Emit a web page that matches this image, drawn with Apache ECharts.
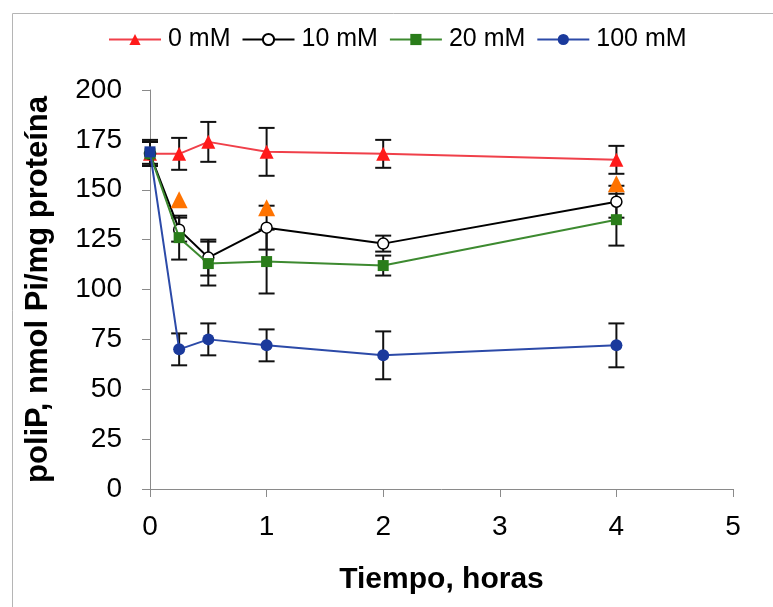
<!DOCTYPE html>
<html>
<head>
<meta charset="utf-8">
<script src="https://cdn.jsdelivr.net/npm/echarts@6/dist/echarts.min.js"></script>
<style>
  html, body { margin: 0; padding: 0; background: #fff; }
  #main { width: 773px; height: 607px; }
</style>
</head>
<body>
<div id="main"></div>
<script>
var dom = document.getElementById('main');
var myChart = echarts.init(dom, null, { renderer: 'canvas' });

// tiempo (horas)
var times = [0, 0.25, 0.5, 1, 2, 4];
// poliP, nmol Pi/mg proteina, with error (+/-)
var mM0 = [168, 168, 174, 169, 168, 165];
var err0 = [6, 8, 10, 12, 7, 7];
var mM10 = [168, 130, 116, 131, 123, 144];
var err10 = [6, 6, 9, 11, 4, 8];
var mM20 = [168, 126, 113, 114, 112, 135];
var err20 = [6, 11, 11, 16, 5, 13];
var mM100 = [169, 70, 75, 72, 67, 72];
var err100 = [6, 8, 8, 8, 12, 11];
// extra orange triangles (not in legend)
var extraTimes = [0.25, 1, 4];
var extraVals = [145, 141, 153];

function pairs(xs, ys) {
  var out = [];
  for (var i = 0; i < xs.length; i++) out.push([xs[i], ys[i]]);
  return out;
}
function errRows(vals, errs) {
  var out = [];
  for (var i = 0; i < times.length; i++) out.push([times[i], vals[i] - errs[i], vals[i] + errs[i]]);
  return out;
}

function renderErr(params, api) {
  var x = api.value(0);
  var top = api.coord([x, api.value(2)]);
  var bot = api.coord([x, api.value(1)]);
  var w = 8;
  var st = { stroke: '#111', lineWidth: 2 };
  return {
    type: 'group',
    children: [
      { type: 'line', shape: { x1: top[0], y1: top[1], x2: bot[0], y2: bot[1] }, style: st },
      { type: 'line', shape: { x1: top[0] - w, y1: top[1], x2: top[0] + w, y2: top[1] }, style: st },
      { type: 'line', shape: { x1: bot[0] - w, y1: bot[1], x2: bot[0] + w, y2: bot[1] }, style: st }
    ]
  };
}

function errSeries(vals, errs) {
  return {
    type: 'custom',
    renderItem: renderErr,
    data: errRows(vals, errs),
    encode: { x: 0, y: [1, 2] },
    z: 1,
    silent: true
  };
}

var blueData = pairs(times, mM100);
blueData[0] = { value: blueData[0], symbol: 'rect', symbolSize: 11 };

var option = {
  animation: false,
  textStyle: { fontFamily: 'Liberation Sans, Arial, sans-serif' },
  graphic: [{
    type: 'rect',
    left: 10, top: 11,
    shape: { width: 800, height: 700 },
    style: { fill: 'none', stroke: '#b5b5b5', lineWidth: 1 },
    silent: true
  }],
  legend: {
    left: 103,
    top: 22,
    itemWidth: 52,
    itemHeight: 14,
    itemGap: 11,
    data: ['0 mM', '10 mM', '20 mM', '100 mM'],
    textStyle: { fontSize: 25, color: '#000', padding: [0, 0, 0, 2] }
  },
  grid: { left: 150, right: 40, top: 90, bottom: 118 },
  xAxis: {
    type: 'value',
    min: 0, max: 5, interval: 1,
    name: 'Tiempo, horas',
    nameLocation: 'middle',
    nameGap: 76,
    nameTextStyle: { fontSize: 30, fontWeight: 'bold', color: '#000' },
    axisLine: { show: true, onZero: false, lineStyle: { color: '#8a8a8a', width: 1 } },
    axisTick: { show: true, length: 8, lineStyle: { color: '#8a8a8a' } },
    axisLabel: { fontSize: 28, color: '#000', margin: 24 },
    splitLine: { show: false }
  },
  yAxis: {
    type: 'value',
    min: 0, max: 200, interval: 25,
    name: 'poliP, nmol Pi/mg proteína',
    nameLocation: 'middle',
    nameGap: 96,
    nameTextStyle: { fontSize: 31, fontWeight: 'bold', color: '#000' },
    axisLine: { show: true, lineStyle: { color: '#8a8a8a', width: 1 } },
    axisTick: { show: true, length: 8, lineStyle: { color: '#8a8a8a' } },
    axisLabel: { fontSize: 28, color: '#000', margin: 28 },
    splitLine: { show: false }
  },
  series: [
    errSeries(mM0, err0),
    errSeries(mM10, err10),
    errSeries(mM20, err20),
    errSeries(mM100, err100),
    {
      name: '0 mM', type: 'line', data: pairs(times, mM0), z: 2,
      symbol: 'triangle', symbolSize: 14, showAllSymbol: true,
      lineStyle: { color: '#f0404a', width: 2 },
      itemStyle: { color: '#ff1a1a' }
    },
    {
      name: '10 mM', type: 'line', data: pairs(times, mM10), z: 3,
      symbol: 'circle', symbolSize: 11, showAllSymbol: true,
      lineStyle: { color: '#000', width: 2 },
      itemStyle: { color: '#fff', borderColor: '#000', borderWidth: 1.5 }
    },
    {
      name: '20 mM', type: 'line', data: pairs(times, mM20), z: 4,
      symbol: 'rect', symbolSize: 11, showAllSymbol: true,
      lineStyle: { color: '#3d8a30', width: 2 },
      itemStyle: { color: '#2a7d1a' }
    },
    {
      name: '100 mM', type: 'line', data: blueData, z: 5,
      symbol: 'circle', symbolSize: 12, showAllSymbol: true,
      lineStyle: { color: '#2c4aa8', width: 2 },
      itemStyle: { color: '#1b3a9c' }
    },
    {
      name: 'extra', type: 'scatter', data: pairs(extraTimes, extraVals), z: 6,
      symbol: 'triangle', symbolSize: 17,
      itemStyle: { color: '#ff7300', opacity: 1 }
    }
  ]
};

myChart.setOption(option);
window.addEventListener('resize', myChart.resize);
</script>
</body>
</html>
